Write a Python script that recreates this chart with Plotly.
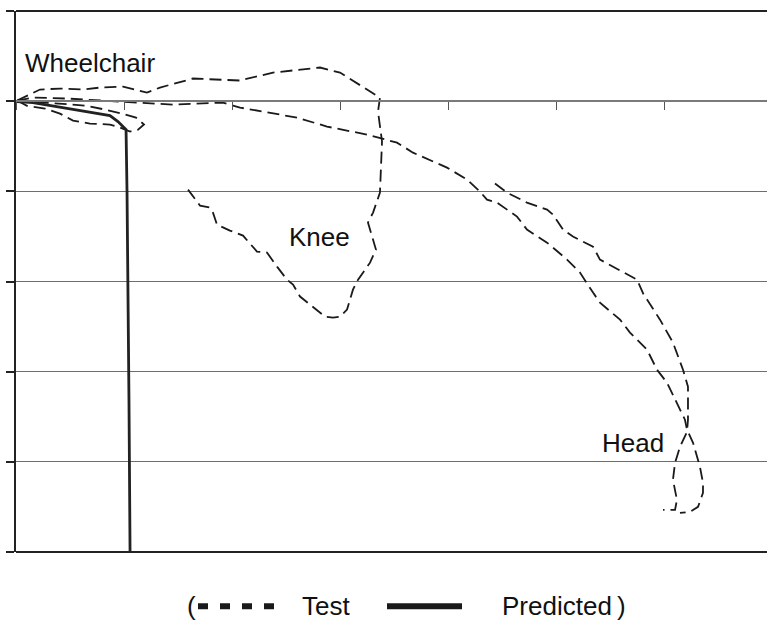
import plotly.graph_objects as go

# Trajectories (horizontal position, vertical position) in grid units
knee_x = [0.01, 0.222, 0.407, 0.62, 0.778, 0.991, 1.102, 1.213, 1.333, 1.639, 2.074, 2.38, 2.815,
          3.0, 3.25, 3.37, 3.352, 3.389, 3.37, 3.306, 3.259, 3.296, 3.333, 3.278, 3.167, 3.12,
          3.065, 3.0, 2.935, 2.861, 2.815, 2.722, 2.63, 2.565, 2.509, 2.417, 2.324, 2.231, 2.139,
          2.102, 1.981, 1.861, 1.824, 1.796, 1.704, 1.611, 1.593]
knee_y = [0.007, 0.129, 0.14, 0.129, 0.151, 0.162, 0.129, 0.095, 0.151, 0.251, 0.229, 0.317, 0.373,
          0.317, 0.129, 0.04, -0.115, -0.448, -1.014, -1.236, -1.347, -1.502, -1.646, -1.791,
          -1.979, -2.09, -2.312, -2.39, -2.401, -2.39, -2.345, -2.256, -2.167, -2.034, -1.979,
          -1.835, -1.679, -1.668, -1.535, -1.491, -1.435, -1.369, -1.236, -1.18, -1.158, -1.014,
          -0.981]

head1_x = [0.01, 0.157, 0.472, 0.778, 1.083, 1.454, 1.917, 2.074, 2.444, 2.602, 2.88, 3.25, 3.528,
           3.676, 3.991, 4.176, 4.296, 4.361, 4.454, 4.639, 4.731, 4.917, 5.102, 5.222, 5.343,
           5.407, 5.593, 5.685, 5.843, 5.935, 6.028, 6.12, 6.194, 6.213, 6.269, 6.333, 6.361,
           6.361, 6.315, 6.241, 6.148]
head1_y = [0.007, 0.04, 0.029, 0.007, -0.016, -0.038, -0.016, -0.071, -0.149, -0.182, -0.282,
           -0.371, -0.46, -0.571, -0.737, -0.87, -1.003, -1.092, -1.125, -1.28, -1.424, -1.569,
           -1.757, -1.901, -2.123, -2.234, -2.423, -2.567, -2.756, -2.978, -3.122, -3.344, -3.533,
           -3.644, -3.789, -4.055, -4.233, -4.344, -4.499, -4.555, -4.566]

head2_x = [4.435, 4.546, 4.731, 4.917, 4.972, 5.065, 5.157, 5.343, 5.407, 5.528, 5.75, 5.824,
           5.843, 5.963, 6.083, 6.176, 6.222, 6.222, 6.213, 6.148, 6.102, 6.083, 6.12, 6.102, 5.991]
head2_y = [-0.914, -1.014, -1.125, -1.202, -1.258, -1.424, -1.502, -1.613, -1.757, -1.835, -1.979,
           -2.179, -2.201, -2.423, -2.678, -2.978, -3.167, -3.533, -3.667, -3.833, -4.011, -4.2,
           -4.422, -4.533, -4.533]

chair_x = [0.01, 0.102, 0.269, 0.407, 0.528, 0.685, 0.87, 0.963, 1.056, 1.13, 1.185, 1.111, 0.981,
           0.824, 0.639, 0.407, 0.176, 0.01]
chair_y = [0.007, -0.051, -0.082, -0.138, -0.215, -0.248, -0.259, -0.293, -0.337, -0.315, -0.259,
           -0.182, -0.138, -0.093, -0.049, -0.027, -0.004, 0.007]

pred_x = [0.01, 0.157, 0.87, 0.944, 1.019, 1.028, 1.046, 1.056]
pred_y = [-0.004, -0.016, -0.16, -0.226, -0.315, -1.003, -3.31, -5.0]

labels = ["Wheelchair", "Knee", "Head"]
label_x = [0.065, 2.509, 5.407]
label_y = [0.428, -1.502, -3.787]

legend_names = ["Test", "Predicted"]

X_RANGE = [0, 751 / 108]
Y_RANGE = [-5, 1]

INK = "#1a1a1a"
test_line = dict(color=INK, width=1.8, dash="12px,6px")

fig = go.Figure()
for xs, ys in [(knee_x, knee_y), (head1_x, head1_y), (head2_x, head2_y), (chair_x, chair_y)]:
    fig.add_trace(go.Scatter(x=xs, y=ys, mode="lines", line=test_line,
                             name=legend_names[0], showlegend=False, hoverinfo="skip"))
fig.add_trace(go.Scatter(x=pred_x, y=pred_y, mode="lines",
                         line=dict(color="#222222", width=2.8),
                         name=legend_names[1], showlegend=False, hoverinfo="skip"))

font = dict(family="Liberation Sans, Arial, sans-serif", size=26, color="#111111")

annotations = []
for t, x, y in zip(labels, label_x, label_y):
    annotations.append(dict(x=x, y=y, xref="x", yref="y", text=t, showarrow=False,
                            xanchor="left", yanchor="middle", font=font))

# legend row below the plot, in paper coordinates
def px_x(p):
    return (p - 16) / 751

LEG_Y = -0.1002
legend_texts = [("(", 185), (legend_names[0], 300), (legend_names[1], 500), (")", 615)]
for t, p in legend_texts:
    annotations.append(dict(x=px_x(p), y=LEG_Y, xref="paper", yref="paper", text=t,
                            showarrow=False, xanchor="left", yanchor="middle", font=font))

shapes = [
    # frame: top and bottom borders
    dict(type="line", xref="paper", yref="paper", x0=0, x1=1, y0=1, y1=1,
         line=dict(color="#222222", width=2)),
    dict(type="line", xref="paper", yref="paper", x0=0, x1=1, y0=0, y1=0,
         line=dict(color="#222222", width=2)),
    # legend samples
    dict(type="line", xref="paper", yref="paper", x0=px_x(198), x1=px_x(274),
         y0=LEG_Y, y1=LEG_Y, line=dict(color=INK, width=6, dash="10px,12px")),
    dict(type="line", xref="paper", yref="paper", x0=px_x(387), x1=px_x(462),
         y0=LEG_Y, y1=LEG_Y, line=dict(color=INK, width=6)),
]

fig.update_layout(
    width=767, height=620,
    margin=dict(l=16, r=0, t=11, b=68),
    plot_bgcolor="white", paper_bgcolor="white",
    showlegend=False,
    xaxis=dict(range=X_RANGE, anchor="free", position=5 / 6,
               showgrid=False, zeroline=False, showticklabels=False,
               showline=True, linecolor="#7a7a7a", linewidth=1.5,
               ticks="outside", ticklen=8, tickwidth=1.2, tickcolor="#555555",
               tick0=0, dtick=1),
    yaxis=dict(range=Y_RANGE, showgrid=True, gridcolor="#6e6e6e", gridwidth=1.2,
               zeroline=False, showticklabels=False,
               showline=True, linecolor="#222222", linewidth=2,
               ticks="outside", ticklen=8, tickwidth=1.5, tickcolor="#222222",
               tick0=0, dtick=1),
    annotations=annotations,
    shapes=shapes,
)

fig.write_html("out.html")
